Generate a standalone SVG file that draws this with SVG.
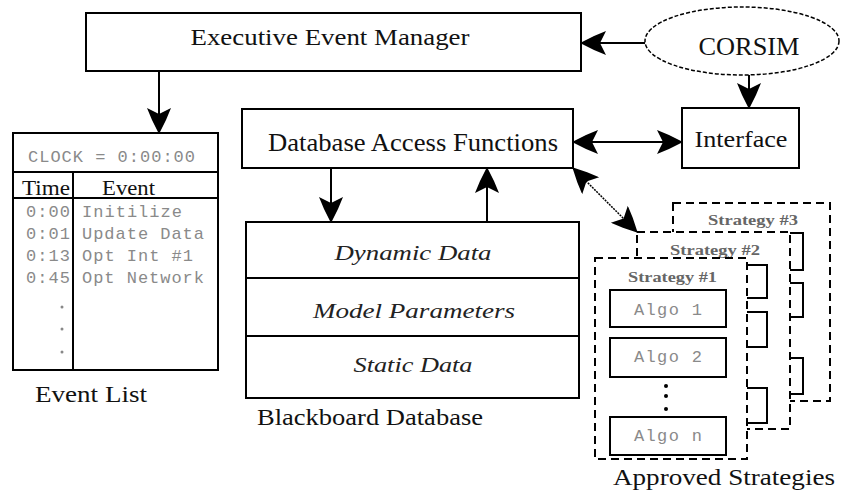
<svg xmlns="http://www.w3.org/2000/svg" width="841" height="492" viewBox="0 0 841 492">
<style>
.box{fill:#fff;stroke:#000;stroke-width:2}
.ln{fill:none;stroke:#000;stroke-width:2}
.dash{fill:#fff;stroke:#000;stroke-width:2;stroke-dasharray:8 5}
.serif{font-family:"Liberation Serif","Times New Roman",serif;fill:#111}
.ital{font-family:"Liberation Serif","Times New Roman",serif;font-style:italic;fill:#222}
.mono{font-family:"Liberation Mono","Courier New",monospace;fill:#8a8a8a;font-size:17px}
.strat{font-family:"Liberation Serif","Times New Roman",serif;font-size:15px;font-weight:bold;fill:#666}
</style>
<defs>
<marker id="ah" markerUnits="userSpaceOnUse" markerWidth="28" markerHeight="24" viewBox="0 0 28 24" refX="27" refY="12" orient="auto-start-reverse">
<path d="M28,12 L14,5 L2,0 L8,12 L2,24 L14,19 Z" fill="#000"/>
</marker>
</defs>

<g id="executive">
<rect class="box" x="86" y="13" width="495" height="58"/>
<text class="serif" x="330" y="45" font-size="24" text-anchor="middle" textLength="279" lengthAdjust="spacingAndGlyphs">Executive Event Manager</text>
</g>

<g id="corsim">
<ellipse cx="742" cy="41" rx="97" ry="34" fill="#fff" stroke="#000" stroke-width="1.5" stroke-dasharray="4 2"/>
<text class="serif" x="749" y="55" font-size="25" text-anchor="middle" textLength="101" lengthAdjust="spacingAndGlyphs">CORSIM</text>
</g>

<g id="interface">
<rect class="box" x="682" y="108" width="117" height="60"/>
<text class="serif" x="741" y="147" font-size="24" text-anchor="middle" textLength="93" lengthAdjust="spacingAndGlyphs">Interface</text>
</g>

<g id="database-access">
<rect class="box" x="242" y="109" width="331" height="59"/>
<text class="serif" x="413" y="151" font-size="25" text-anchor="middle" textLength="290" lengthAdjust="spacingAndGlyphs">Database Access Functions</text>
</g>

<g id="event-list">
<rect class="box" x="13" y="133" width="205" height="237"/>
<line class="ln" x1="13" y1="172" x2="218" y2="172"/>
<line class="ln" x1="13" y1="198" x2="218" y2="198"/>
<line class="ln" x1="73" y1="172" x2="73" y2="370"/>
<text class="mono" x="28" y="162" textLength="167" lengthAdjust="spacing">CLOCK = 0:00:00</text>
<text class="serif" x="22" y="195" font-size="22" textLength="48" lengthAdjust="spacingAndGlyphs">Time</text>
<text class="serif" x="102" y="195" font-size="22" textLength="53" lengthAdjust="spacingAndGlyphs">Event</text>
<text class="mono" x="26" y="217" textLength="44" lengthAdjust="spacing">0:00</text>
<text class="mono" x="26" y="239" textLength="44" lengthAdjust="spacing">0:01</text>
<text class="mono" x="26" y="261" textLength="44" lengthAdjust="spacing">0:13</text>
<text class="mono" x="26" y="283" textLength="44" lengthAdjust="spacing">0:45</text>
<text class="mono" x="82" y="217" textLength="100" lengthAdjust="spacing">Initilize</text>
<text class="mono" x="82" y="239" textLength="122" lengthAdjust="spacing">Update Data</text>
<text class="mono" x="82" y="261" textLength="111" lengthAdjust="spacing">Opt Int #1</text>
<text class="mono" x="82" y="283" textLength="122" lengthAdjust="spacing">Opt Network</text>
<circle cx="62" cy="307" r="1.5" fill="#888"/>
<circle cx="62" cy="329" r="1.5" fill="#888"/>
<circle cx="62" cy="352" r="1.5" fill="#888"/>
<text class="serif" x="35" y="402" font-size="24" textLength="112" lengthAdjust="spacingAndGlyphs">Event List</text>
</g>

<g id="blackboard">
<rect class="box" x="246" y="222" width="333" height="176"/>
<line class="ln" x1="246" y1="278" x2="579" y2="278"/>
<line class="ln" x1="246" y1="336" x2="579" y2="336"/>
<text class="ital" x="413" y="260" font-size="22" text-anchor="middle" textLength="157" lengthAdjust="spacingAndGlyphs">Dynamic Data</text>
<text class="ital" x="414" y="318" font-size="22" text-anchor="middle" textLength="202" lengthAdjust="spacingAndGlyphs">Model Parameters</text>
<text class="ital" x="413" y="372" font-size="22" text-anchor="middle" textLength="119" lengthAdjust="spacingAndGlyphs">Static Data</text>
<text class="serif" x="257" y="425" font-size="24" textLength="226" lengthAdjust="spacingAndGlyphs">Blackboard Database</text>
</g>

<g id="strategy-3">
<rect class="dash" x="673" y="203" width="157" height="198"/>
<text class="strat" x="708" y="225" textLength="90" lengthAdjust="spacingAndGlyphs">Strategy #3</text>
<rect class="box" x="688" y="233" width="115" height="37"/>
<rect class="box" x="688" y="283" width="115" height="34"/>
<rect class="box" x="688" y="358" width="115" height="36"/>
</g>

<g id="strategy-2">
<rect class="dash" x="637" y="232" width="153" height="197"/>
<text class="strat" x="670" y="255" textLength="90" lengthAdjust="spacingAndGlyphs">Strategy #2</text>
<rect class="box" x="652" y="265" width="115" height="33"/>
<rect class="box" x="652" y="312" width="115" height="35"/>
<rect class="box" x="652" y="388" width="115" height="35"/>
</g>

<g id="strategy-1">
<rect class="dash" x="595" y="258" width="152" height="201"/>
<text class="strat" x="628" y="282" textLength="89" lengthAdjust="spacingAndGlyphs">Strategy #1</text>
<rect class="box" x="610" y="290" width="116" height="37"/>
<text class="mono" x="668" y="315" text-anchor="middle" textLength="68" lengthAdjust="spacing">Algo 1</text>
<rect class="box" x="610" y="338" width="116" height="39"/>
<text class="mono" x="668" y="362" text-anchor="middle" textLength="68" lengthAdjust="spacing">Algo 2</text>
<circle cx="666" cy="386" r="2" fill="#000"/>
<circle cx="666" cy="396" r="2" fill="#000"/>
<circle cx="666" cy="409" r="2" fill="#000"/>
<rect class="box" x="610" y="417" width="116" height="38"/>
<text class="mono" x="668" y="441" text-anchor="middle" textLength="68" lengthAdjust="spacing">Algo n</text>
<text class="serif" x="613" y="485" font-size="24" textLength="222" lengthAdjust="spacingAndGlyphs">Approved Strategies</text>
</g>

<g id="connectors">
<line class="ln" x1="159" y1="71" x2="159" y2="133" marker-end="url(#ah)"/>
<line class="ln" x1="645" y1="43" x2="581" y2="43" marker-end="url(#ah)"/>
<line class="ln" x1="749" y1="75" x2="749" y2="108" marker-end="url(#ah)"/>
<line class="ln" x1="573" y1="142" x2="682" y2="142" marker-start="url(#ah)" marker-end="url(#ah)"/>
<line class="ln" x1="331" y1="168" x2="331" y2="222" marker-end="url(#ah)"/>
<line class="ln" x1="487" y1="222" x2="487" y2="168" marker-end="url(#ah)"/>
<line x1="573" y1="168" x2="637" y2="232" stroke="#000" stroke-width="1.5" stroke-dasharray="2 1" marker-start="url(#ah)" marker-end="url(#ah)"/>
</g>
</svg>
